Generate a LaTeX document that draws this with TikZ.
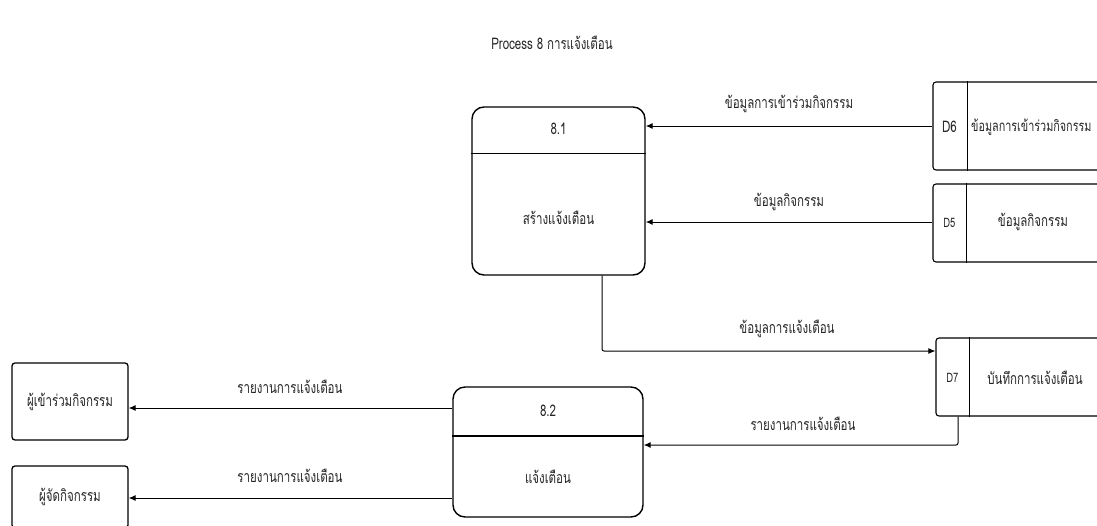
\documentclass[tikz,border=0pt]{standalone}
\usepackage{fontspec}
\setmainfont[Script=Thai, FakeStretch=0.72]{Loma}
\usetikzlibrary{arrows.meta}
\usetikzlibrary{calc}

\begin{document}
\begin{tikzpicture}[x=1pt, y=-1pt, font=\fontsize{16}{18}\selectfont, text=black!85,
    proc/.style={draw, line width=1.4pt, rounded corners=12pt},
    store/.style={draw, line width=1.1pt, rounded corners=3pt, minimum width=200pt},
    ent/.style={draw, line width=1.3pt, rounded corners=3pt, minimum width=116pt},
    flow/.style={-{Latex[length=7pt,width=6pt]}, line width=1pt},
    lbl/.style={inner sep=1pt}]
    \clip (0,0) rectangle (1097,525);
    \fill[white] (0,0) rectangle (1097,525);

    \node (T) at (552,43) {Process 8 การแจ้งเตือน};

    \node[proc, minimum width=173pt, minimum height=168pt] (P81) at (558.5,191) {};
    \node[proc, minimum width=190pt, minimum height=130pt] (P82) at (548,452) {};
    \node[store, minimum height=88pt] (D6) at (1033,126) {};
    \node[store, minimum height=78pt] (D5) at (1033,223) {};
    \node[store, minimum height=78pt] (D7) at (1036,377) {};
    \node[ent, minimum height=77pt] (E1) at (70,401.5) {ผู้เข้าร่วมกิจกรรม};
    \node[ent, minimum height=62pt] (E2) at (70,497) {ผู้จัดกิจกรรม};

    \draw[line width=1pt] (P81.west |- 0,153) -- (P81.east |- 0,153);
    \draw[line width=1.8pt] (P82.west |- 0,436) -- (P82.east |- 0,436);
    \node (P81n) at (558.5,129) {8.1};
    \node (P81t) at (558.5,218) {สร้างแจ้งเตือน};
    \node (P82n) at (548,411) {8.2};
    \node (P82t) at (548,477) {แจ้งเตือน};

    \draw[line width=1pt] ($(D6.north west)+(35,0)$) -- ($(D6.south west)+(35,0)$);
    \draw[line width=1pt] ($(D5.north west)+(34,0)$) -- ($(D5.south west)+(34,0)$);
    \draw[line width=1pt] ($(D7.north west)+(34,0)$) -- ($(D7.south west)+(34,0)$);
    \node (D6id) at ($(D6.west)+(17,1)$) {D6};
    \node[font=\fontsize{13}{15}\selectfont] (D5id) at ($(D5.west)+(17,0)$) {D5};
    \node[font=\fontsize{13}{15}\selectfont] (D7id) at ($(D7.west)+(17,1)$) {D7};
    \node[anchor=west, inner sep=0pt, font=\fontsize{15}{17}\selectfont] (D6t) at (971,127) {ข้อมูลการเข้าร่วมกิจกรรม};
    \node (D5t) at (1033,222) {ข้อมูลกิจกรรม};
    \node (D7t) at (1035,378) {บันทึกการแจ้งเตือน};

    \coordinate (c1) at (602,351);
    \coordinate (c2) at (958,445);
    \coordinate (c3) at (0,408);
    \coordinate (c4) at (0,498);

    \draw[flow] (D6.west) -- (P81.east |- D6.west);
    \draw[flow] (D5.west |- 0,222) -- (P81.east |- 0,222);
    \draw[flow, rounded corners=2pt] (P81.south -| c1) |- (D7.west |- c1);
    \draw[flow, rounded corners=2pt] (D7.south -| c2) |- (P82.east |- c2);
    \draw[flow] (P82.west |- c3) -- (E1.east |- c3);
    \draw[flow] (P82.west |- c4) -- (E2.east |- c4);

    \node[lbl] (L1) at (789,104) {ข้อมูลการเข้าร่วมกิจกรรม};
    \node[lbl] (L2) at (789,202) {ข้อมูลกิจกรรม};
    \node[lbl] (L3) at (787,329) {ข้อมูลการแจ้งเตือน};
    \node[lbl] (L4) at (803,424) {รายงานการแจ้งเตือน};
    \node[lbl] (L5) at (290,387) {รายงานการแจ้งเตือน};
    \node[lbl] (L6) at (290,476) {รายงานการแจ้งเตือน};
\end{tikzpicture}
\end{document}
